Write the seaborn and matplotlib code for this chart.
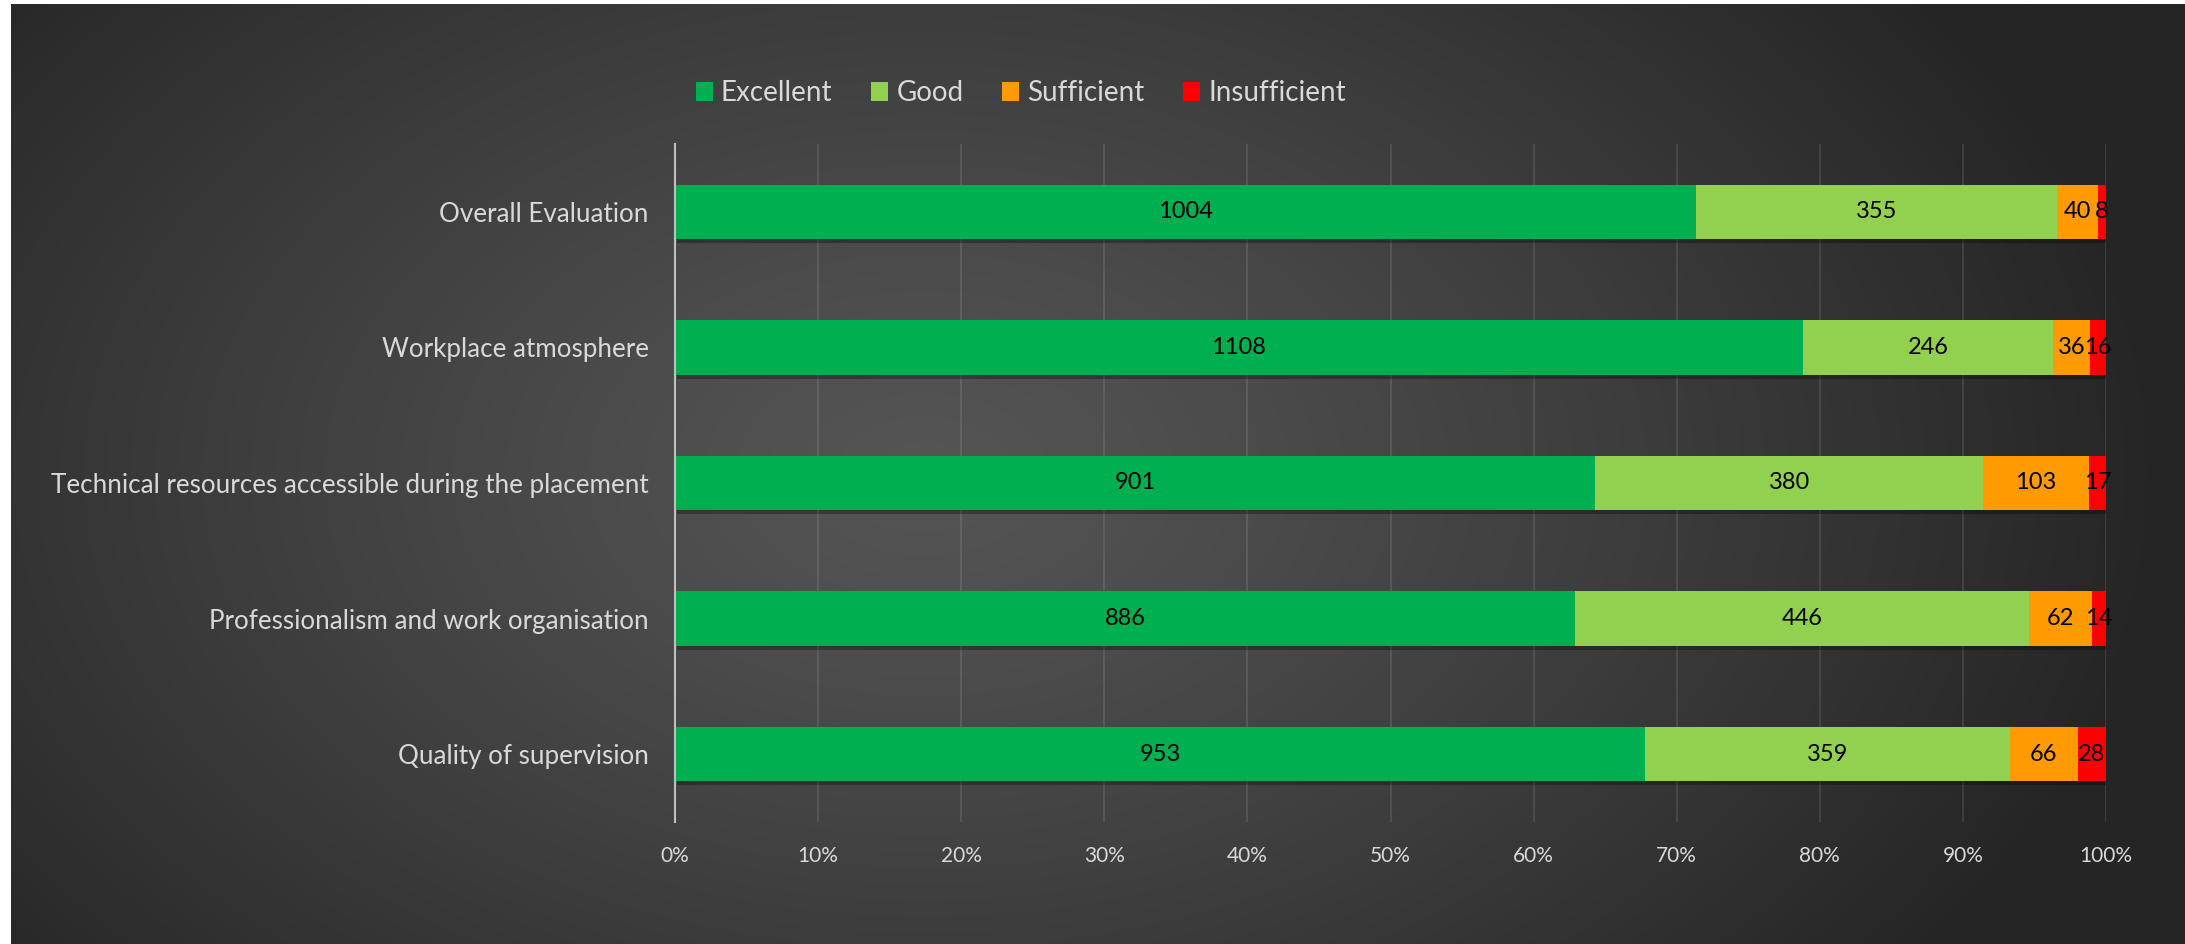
import numpy as np
import pandas as pd
import matplotlib
matplotlib.use("Agg")
import matplotlib.pyplot as plt
import matplotlib.patheffects as pe
from matplotlib.patches import Patch
import seaborn as sns

categories = ["Overall Evaluation", "Workplace atmosphere",
              "Technical resources accessible during the placement",
              "Professionalism and work organisation", "Quality of supervision"]
levels = ["Excellent", "Good", "Sufficient", "Insufficient"]
excellent = [1004, 1108, 901, 886, 953]
good = [355, 246, 380, 446, 359]
sufficient = [40, 36, 103, 62, 66]
insufficient = [8, 16, 17, 14, 28]
colors = ["#00B050", "#92D050", "#FF9A00", "#FF0000"]
tick_labels = ["0%", "10%", "20%", "30%", "40%", "50%", "60%", "70%", "80%", "90%", "100%"]

sns.set_style("dark")
plt.rcParams["font.family"] = ["Lato", "DejaVu Sans"]

counts = np.array([excellent, good, sufficient, insufficient], dtype=float)
share = counts / counts.sum(axis=0)
cum = np.cumsum(share, axis=0)

W, H = 2185, 944
fig = plt.figure(figsize=(W / 100, H / 100), dpi=100)
fig.patch.set_facecolor("white")

# radial gradient background
bg = fig.add_axes([11 / W, 0, 1 - 11 / W, 1 - 4 / H], zorder=-5)
yy, xx = np.mgrid[0:H, 0:W]
d = np.sqrt(((xx - 0.42 * W) / 1250.0) ** 2 + ((yy - 0.50 * H) / 820.0) ** 2)
d = np.clip(d, 0, 1) ** 1.2
c0, c1 = 0x55 / 255, 0x25 / 255
img = c0 + (c1 - c0) * d
bg.imshow(np.dstack([img, img, img]), aspect="auto", extent=[0, 1, 0, 1])
bg.axis("off")

ax = fig.add_axes([675 / W, 1 - 822 / H, (2106 - 675) / W, (822 - 144) / H])
ax.set_facecolor("none")

df = pd.DataFrame({"category": categories})
shadow = [pe.SimplePatchShadow(offset=(1.5, -3), shadow_rgbFace="black", alpha=0.3), pe.Normal()]
for i in range(3, -1, -1):
    df["value"] = cum[i]
    sns.barplot(data=df, x="value", y="category", color=colors[i], width=0.4,
                saturation=1, ax=ax, orient="h", zorder=3, linewidth=0)
    if i == 3:
        for p in ax.patches:
            p.set_path_effects(shadow)

for i in range(4):
    left = cum[i] - share[i]
    for j in range(len(categories)):
        ax.text(left[j] + share[i][j] / 2, j, f"{int(counts[i][j])}", ha="center",
                va="center", fontsize=17, color="black", zorder=5)

ax.set_xlim(0, 1)
ax.set_ylim(4.5, -0.5)
ax.set_xticks(np.linspace(0, 1, 11))
ax.set_xticklabels(tick_labels)
ax.tick_params(axis="x", length=0, pad=17, labelsize=15, labelcolor="#d9d9d9")
ax.tick_params(axis="y", length=0, pad=19, labelsize=18.7, labelcolor="#d9d9d9")
ax.set_xlabel("")
ax.set_ylabel("")
ax.grid(False)
for x in np.linspace(0.1, 1, 10):
    ax.axvline(x, color="white", alpha=0.1, lw=1.5, zorder=1)
for s in ["top", "right", "bottom"]:
    ax.spines[s].set_visible(False)
ax.spines["left"].set_color("#bfbfbf")
ax.spines["left"].set_linewidth(1.5)
ax.spines["left"].set_zorder(6)

handles = [Patch(facecolor=c, edgecolor="none", label=l) for c, l in zip(colors, levels)]
fig.legend(handles=handles, loc="center", bbox_to_anchor=(1021 / W, 1 - 93 / H), ncol=4,
           frameon=False, fontsize=20, labelcolor="#d9d9d9", handlelength=0.6,
           handleheight=0.7, handletextpad=0.3, columnspacing=1.4)

fig.savefig("out.png", dpi=100)
